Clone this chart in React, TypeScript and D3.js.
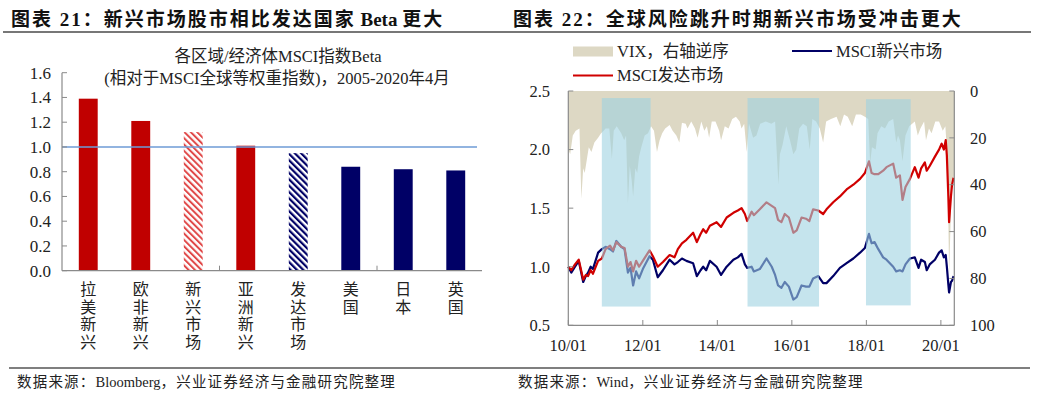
import React from "react";
import * as d3 from "d3";

const W = 1039;
const H = 396;
const FONT = "'Liberation Serif', 'Noto Sans CJK SC', serif";

// left chart: MSCI beta by region
const categories = ["拉美新兴", "欧非新兴", "新兴市场", "亚洲新兴", "发达市场", "美国", "日本", "英国"];
const betas = [1.39, 1.21, 1.12, 1.01, 0.95, 0.84, 0.82, 0.81];
const barStyle = ["red", "red", "redHatch", "red", "navyHatch", "navy", "navy", "navy"];
const betaTicks = [0, 0.2, 0.4, 0.6, 0.8, 1.0, 1.2, 1.4, 1.6];

// right chart: MSCI indices (decimal year) and VIX
const lineT = [
  2010.0, 2010.08, 2010.18, 2010.28, 2010.4, 2010.47, 2010.53, 2010.6, 2010.66, 2010.8,
  2010.9, 2011.0, 2011.12, 2011.2, 2011.29, 2011.42, 2011.51, 2011.6, 2011.67, 2011.74,
  2011.82, 2011.9, 2012.0, 2012.18, 2012.27, 2012.4, 2012.54, 2012.72, 2012.85, 2012.94,
  2013.05, 2013.17, 2013.35, 2013.45, 2013.55, 2013.62, 2013.7, 2013.8, 2013.98, 2014.1,
  2014.25, 2014.43, 2014.55, 2014.65, 2014.74, 2014.8, 2014.92, 2014.98, 2015.14, 2015.32,
  2015.46, 2015.55, 2015.63, 2015.72, 2015.81, 2015.92, 2016.04, 2016.13, 2016.26, 2016.38,
  2016.47, 2016.57, 2016.71, 2016.84, 2016.93, 2017.11, 2017.29, 2017.47, 2017.65, 2017.83,
  2017.96, 2018.07, 2018.14, 2018.22, 2018.32, 2018.45, 2018.54, 2018.72, 2018.8, 2018.9,
  2018.97, 2019.05, 2019.17, 2019.3, 2019.4, 2019.47, 2019.57, 2019.62, 2019.7, 2019.84,
  2019.95, 2020.02, 2020.08, 2020.13, 2020.16, 2020.2, 2020.22, 2020.27, 2020.3, 2020.34,
];
const msciDev = [
  1.0, 0.97, 1.02, 1.06, 0.89, 0.93, 0.92, 0.97, 0.94, 1.05,
  1.07, 1.15, 1.18, 1.14, 1.21, 1.17, 1.16, 1.0, 1.04, 0.96,
  1.05, 1.0, 1.05, 1.14, 1.09, 1.0, 1.04, 1.1, 1.08, 1.15,
  1.2, 1.23, 1.29, 1.21, 1.28, 1.32, 1.29, 1.35, 1.38, 1.34,
  1.42, 1.46, 1.48, 1.5, 1.45, 1.39, 1.47, 1.44, 1.49, 1.55,
  1.52, 1.5, 1.4, 1.38, 1.45, 1.42, 1.29, 1.31, 1.42, 1.41,
  1.39, 1.49, 1.48, 1.45, 1.49, 1.55, 1.6, 1.66, 1.7, 1.75,
  1.8, 1.9, 1.8, 1.79, 1.79, 1.82, 1.85, 1.88, 1.76, 1.78,
  1.57, 1.68, 1.75, 1.85, 1.76, 1.84, 1.89, 1.82, 1.86, 1.94,
  2.0, 2.05, 2.0, 2.08, 1.95, 1.6, 1.38, 1.6, 1.7, 1.76,
];
const msciEm = [
  1.0, 0.95, 1.0, 1.05, 0.87, 0.92, 0.95, 1.0, 0.98, 1.12,
  1.15, 1.17, 1.15, 1.13, 1.22, 1.17, 1.15, 0.95, 0.99, 0.84,
  0.96, 0.9, 0.98, 1.09, 1.06, 0.91, 0.97, 1.06, 1.02, 1.04,
  1.07, 1.05, 1.03, 0.92, 0.97, 1.0, 0.97, 1.05, 1.0, 0.93,
  1.0, 1.06, 1.08, 1.11, 1.02, 0.99, 1.0, 0.96, 0.98, 1.07,
  1.0, 0.93, 0.84, 0.82, 0.87, 0.83, 0.72, 0.74, 0.84, 0.83,
  0.83, 0.9, 0.92, 0.86, 0.86, 0.92, 0.99, 1.03, 1.07, 1.12,
  1.16, 1.28, 1.2, 1.21, 1.15, 1.08, 1.06, 1.0, 0.96, 0.97,
  0.96, 1.02, 1.07, 1.08, 0.99, 1.06, 1.04, 0.97, 1.02, 1.06,
  1.12, 1.14, 1.08, 1.1, 1.0, 0.85, 0.78, 0.87, 0.88, 0.92,
];
const vixT = [
  2010.0, 2010.05, 2010.12, 2010.2, 2010.3, 2010.35, 2010.4, 2010.44, 2010.5, 2010.55,
  2010.62, 2010.7, 2010.8, 2010.88, 2010.95, 2011.0, 2011.1, 2011.17, 2011.22, 2011.3,
  2011.42, 2011.5, 2011.55, 2011.6, 2011.65, 2011.7, 2011.74, 2011.8, 2011.85, 2011.9,
  2011.96, 2012.05, 2012.14, 2012.22, 2012.3, 2012.38, 2012.45, 2012.52, 2012.6, 2012.72,
  2012.8, 2012.9, 2012.98, 2013.05, 2013.15, 2013.2, 2013.3, 2013.4, 2013.47, 2013.57,
  2013.65, 2013.72, 2013.78, 2013.85, 2013.95, 2014.05, 2014.1, 2014.2, 2014.3, 2014.4,
  2014.5, 2014.6, 2014.65, 2014.72, 2014.79, 2014.85, 2014.96, 2015.05, 2015.15, 2015.3,
  2015.45, 2015.55, 2015.64, 2015.68, 2015.75, 2015.85, 2015.95, 2016.04, 2016.12, 2016.2,
  2016.3, 2016.4, 2016.48, 2016.55, 2016.65, 2016.75, 2016.84, 2016.92, 2017.05, 2017.2,
  2017.3, 2017.4, 2017.5, 2017.62, 2017.72, 2017.85, 2017.96, 2018.05, 2018.1, 2018.15,
  2018.25, 2018.3, 2018.4, 2018.5, 2018.6, 2018.72, 2018.8, 2018.85, 2018.9, 2018.97,
  2019.05, 2019.15, 2019.3, 2019.38, 2019.45, 2019.55, 2019.6, 2019.68, 2019.75, 2019.85,
  2019.95, 2020.05, 2020.12, 2020.16, 2020.2, 2020.22, 2020.25, 2020.28, 2020.32, 2020.36,
];
const vix = [
  25, 27, 19, 17, 16, 46, 33, 35, 29, 24,
  26, 22, 20, 18, 17, 16, 16, 29, 17, 15,
  18, 21, 19, 48, 32, 38, 45, 33, 35, 28,
  24, 19, 18, 15, 17, 26, 21, 18, 16, 14.5,
  17, 19, 22, 13.5, 14, 16, 13, 16, 20, 13,
  17, 15, 20, 13, 13, 17, 21, 15, 16, 12,
  11, 13, 16, 14, 26, 14, 20, 19, 14, 13,
  14, 13, 40, 27, 23, 15, 21, 27, 25, 16,
  14, 15, 25, 12, 13, 16, 22, 13, 12, 11,
  15, 10, 11, 15, 10, 10, 11, 12, 31, 24,
  25, 18, 15, 16, 13, 12, 22, 19, 21, 30,
  19, 15, 13, 19, 16, 13, 21, 16, 18, 13,
  13, 17, 15, 25, 55, 78, 62, 45, 38, 36,
];
const shadeStart = [2010.9, 2014.81, 2017.99];
const shadeEnd = [2012.21, 2016.73, 2019.19];
const shadeTop = [2.44, 2.44, 2.43];
const shadeBottom = [0.66, 0.66, 0.67];
const leftTicks = [0.5, 1.0, 1.5, 2.0, 2.5];
const rightTicks = [0, 20, 40, 60, 80, 100];
const yearTicks = [2010, 2012, 2014, 2016, 2018, 2020];

const AXIS = "#8a8a8a";
const RED = "#c00000";
const NAVY = "#000066";
const BEIGE = "#ddd8c4";

function BarChart() {
  const x = d3.scaleBand<string>().domain(categories).range([62, 482]).paddingInner(0.64).paddingOuter(0.32);
  const y = d3.scaleLinear().domain([0, 1.6]).range([270.7, 72.7]);
  const fills: Record<string, string> = {
    red: RED,
    navy: NAVY,
    redHatch: "url(#hatchRed)",
    navyHatch: "url(#hatchNavy)",
  };
  return (
    <g>
      <text x={278} y={62} fontSize={16.5} textAnchor="middle" fill="#222">各区域/经济体MSCI指数Beta</text>
      <text x={277} y={84} fontSize={16.5} textAnchor="middle" fill="#222">(相对于MSCI全球等权重指数)，2005-2020年4月</text>
      {categories.map((c, i) => (
        <rect key={c} x={x(c)} y={y(betas[i])} width={x.bandwidth()} height={y(0) - y(betas[i])} fill={fills[barStyle[i]]} />
      ))}
      <line x1={62} x2={477} y1={y(1)} y2={y(1)} stroke="#6e9bd6" strokeWidth={1.6} />
      <line x1={62} x2={62} y1={y(1.6)} y2={y(0)} stroke={AXIS} strokeWidth={1.2} />
      <line x1={62} x2={482} y1={y(0)} y2={y(0)} stroke={AXIS} strokeWidth={1.2} />
      {betaTicks.map((t) => (
        <g key={t}>
          <line x1={62} x2={67} y1={y(t)} y2={y(t)} stroke={AXIS} />
          <text x={51} y={y(t)} dy="0.35em" fontSize={17} textAnchor="end" fill="#222">{t.toFixed(1)}</text>
        </g>
      ))}
      {[3, 6].map((k) => (
        <line key={k} x1={62 + x.step() * k} x2={62 + x.step() * k} y1={y(0)} y2={y(0) - 5} stroke={AXIS} />
      ))}
      {categories.map((c) => (
        <text key={c} x={(x(c) ?? 0) + x.bandwidth() / 2} fontSize={16} textAnchor="middle" fill="#222">
          {c.split("").map((ch, j) => (
            <tspan key={j} x={(x(c) ?? 0) + x.bandwidth() / 2} y={295 + j * 17.5}>{ch}</tspan>
          ))}
        </text>
      ))}
    </g>
  );
}

function LineChart() {
  const x = d3.scaleLinear().domain([2010, 2020.36]).range([568.3, 954.3]);
  const yL = d3.scaleLinear().domain([0.5, 2.5]).range([325.3, 91]);
  const yR = d3.scaleLinear().domain([0, 100]).range([91, 325.3]);
  const vixArea = d3
    .area<number>()
    .x((_, i) => x(vixT[i]))
    .y0(() => yR(0))
    .y1((d) => yR(d));
  const line = d3
    .line<number>()
    .x((_, i) => x(lineT[i]))
    .y((d) => yL(d));
  return (
    <g>
      <path d={vixArea(vix) ?? ""} fill={BEIGE} />
      <path d={line(msciEm) ?? ""} fill="none" stroke={NAVY} strokeWidth={2.2} strokeLinejoin="round" />
      <path d={line(msciDev) ?? ""} fill="none" stroke="#d00000" strokeWidth={2.2} strokeLinejoin="round" />
      {shadeStart.map((s, i) => (
        <rect
          key={s}
          x={x(s)}
          width={x(shadeEnd[i]) - x(s)}
          y={yL(shadeTop[i])}
          height={yL(shadeBottom[i]) - yL(shadeTop[i])}
          fill="#9ed2e1"
          opacity={0.6}
        />
      ))}
      <line x1={x(2010)} x2={x(2010)} y1={91} y2={325.3} stroke={AXIS} strokeWidth={1.2} />
      <line x1={x(2020.36)} x2={x(2020.36)} y1={91} y2={325.3} stroke={AXIS} strokeWidth={1.2} />
      <line x1={x(2010)} x2={x(2020.36)} y1={325.3} y2={325.3} stroke={AXIS} strokeWidth={1.2} />
      {leftTicks.map((t) => (
        <g key={t}>
          <line x1={x(2010)} x2={x(2010) + 5} y1={yL(t)} y2={yL(t)} stroke={AXIS} />
          <text x={550} y={yL(t)} dy="0.35em" fontSize={16.5} textAnchor="end" fill="#222">{t.toFixed(1)}</text>
        </g>
      ))}
      {rightTicks.map((t) => (
        <g key={t}>
          <line x1={x(2020.36)} x2={x(2020.36) - 5} y1={yR(t)} y2={yR(t)} stroke={AXIS} />
          <text x={970} y={yR(t)} dy="0.35em" fontSize={16.5} textAnchor="start" fill="#222">{t}</text>
        </g>
      ))}
      {yearTicks.map((t) => (
        <g key={t}>
          <line x1={x(t)} x2={x(t)} y1={325.3} y2={320} stroke={AXIS} />
          <text x={x(t)} y={351} fontSize={16.5} textAnchor="middle" fill="#222">{`${String(t).slice(2)}/01`}</text>
        </g>
      ))}
      {/* legend */}
      <rect x={573} y={46.5} width={40} height={10} fill={BEIGE} />
      <text x={617} y={57} fontSize={16.5} fill="#222">VIX，右轴逆序</text>
      <line x1={573} x2={613} y1={75.5} y2={75.5} stroke="#d00000" strokeWidth={2} />
      <text x={617} y={81} fontSize={16.5} fill="#222">MSCI发达市场</text>
      <line x1={792} x2={832} y1={51} y2={51} stroke={NAVY} strokeWidth={2} />
      <text x={836} y={57} fontSize={16.5} fill="#222">MSCI新兴市场</text>
    </g>
  );
}

export default function App() {
  return (
    <svg
      width={W}
      height={H}
      style={{ position: "absolute", left: 0, top: 0, background: "#fff", fontFamily: FONT }}
    >
      <defs>
        <pattern id="hatchRed" width={4.5} height={4.5} patternUnits="userSpaceOnUse" patternTransform="rotate(-45)">
          <rect width={4.5} height={4.5} fill="#fff" />
          <rect width={2} height={4.5} fill="#e04848" />
        </pattern>
        <pattern id="hatchNavy" width={4.5} height={4.5} patternUnits="userSpaceOnUse" patternTransform="rotate(-45)">
          <rect width={4.5} height={4.5} fill="#fff" />
          <rect width={2.2} height={4.5} fill={NAVY} />
        </pattern>
      </defs>
      <text x={11} y={26} fontSize={19} fontWeight="bold" fill="#111">
        <tspan letterSpacing={2}>图表 21：新兴市场股市相比发达国家</tspan>
        <tspan> Beta </tspan>
        <tspan letterSpacing={2}>更大</tspan>
      </text>
      <text x={513} y={26} fontSize={19} fontWeight="bold" letterSpacing={2} fill="#111">图表 22：全球风险跳升时期新兴市场受冲击更大</text>
      <line x1={3} x2={1031} y1={32} y2={32} stroke="#777" strokeWidth={2} />
      <BarChart />
      <LineChart />
      <line x1={9} x2={1030} y1={368} y2={368} stroke="#555" strokeWidth={1.3} />
      <text x={17} y={387} fontSize={14.5} fill="#222">
        <tspan letterSpacing={1.2}>数据来源：</tspan>
        <tspan>Bloomberg</tspan>
        <tspan letterSpacing={1.2}>，兴业证券经济与金融研究院整理</tspan>
      </text>
      <text x={518} y={387} fontSize={14.5} fill="#222">
        <tspan letterSpacing={1.2}>数据来源：</tspan>
        <tspan>Wind</tspan>
        <tspan letterSpacing={1.2}>，兴业证券经济与金融研究院整理</tspan>
      </text>
    </svg>
  );
}
